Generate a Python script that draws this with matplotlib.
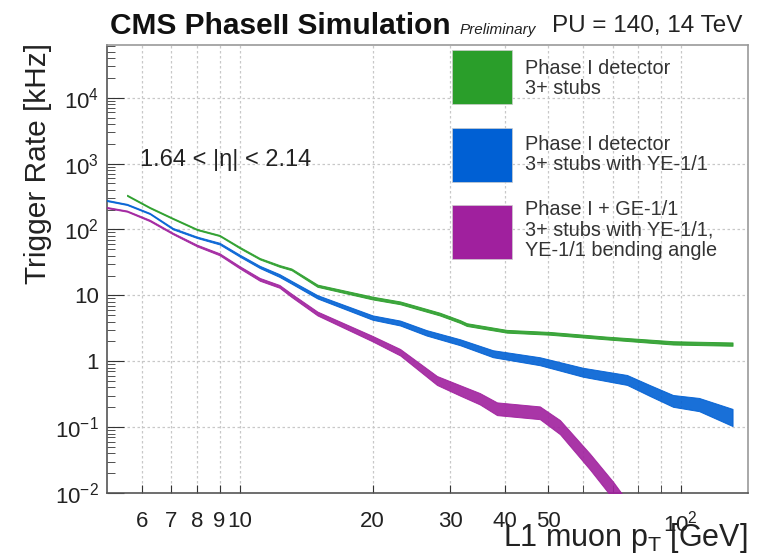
import numpy as np
import matplotlib
matplotlib.use("Agg")
import matplotlib.pyplot as plt
from matplotlib.patches import Rectangle
from matplotlib.ticker import FixedLocator, NullFormatter

plt.rcParams['font.family'] = ['Liberation Sans', 'DejaVu Sans']
plt.rcParams['mathtext.fontset'] = 'custom'
plt.rcParams['mathtext.rm'] = 'Liberation Sans'
plt.rcParams['mathtext.it'] = 'Liberation Sans:italic'

# --- data (pT in GeV, rate in kHz, err = relative band half-width) ---
pt_green = [5.55, 6.25, 7.05, 8.0, 9.0, 10.0, 11.1, 12.3, 13.1, 15.0, 20.0, 23.1, 28.4, 31.6, 32.7, 40.3, 50.5, 68.0, 96.0, 131.0]
rate_green = [330, 215, 147, 100, 81, 53, 36, 28, 24.8, 14.0, 9.1, 7.7, 5.2, 4.0, 3.6, 2.85, 2.65, 2.25, 1.9, 1.82]
err_green = [0.02, 0.02, 0.02, 0.02, 0.02, 0.025, 0.025, 0.03, 0.03, 0.04, 0.05, 0.05, 0.05, 0.05, 0.05, 0.05, 0.05, 0.05, 0.06, 0.06]

pt_blue = [5.0, 5.55, 6.25, 7.05, 8.0, 9.0, 10.0, 11.1, 12.3, 13.1, 15.0, 20.0, 23.1, 26.5, 31.6, 37.5, 47.9, 60.0, 75.5, 85.0, 96.0, 110.0, 131.0]
rate_blue = [275, 240, 175, 103, 76, 61, 40, 27, 20, 15.8, 9.5, 4.6, 3.8, 2.7, 1.94, 1.3, 1.0, 0.68, 0.52, 0.36, 0.25, 0.22, 0.14]
err_blue = [0.02, 0.02, 0.02, 0.025, 0.025, 0.03, 0.035, 0.04, 0.05, 0.05, 0.06, 0.08, 0.09, 0.10, 0.11, 0.13, 0.15, 0.17, 0.19, 0.21, 0.23, 0.26, 0.35]

pt_mag = [5.0, 5.55, 6.25, 7.05, 8.0, 9.0, 10.0, 11.1, 12.3, 13.1, 15.0, 20.0, 23.1, 28.0, 31.6, 35.0, 38.3, 47.9, 53.2, 62.2, 70.2, 75.0]
rate_mag = [215, 190, 137, 87, 57, 42, 26.6, 17.5, 13.7, 10.0, 5.3, 2.2, 1.37, 0.51, 0.36, 0.27, 0.19, 0.165, 0.10, 0.03, 0.011, 0.006]
err_mag = [0.02, 0.02, 0.025, 0.025, 0.03, 0.035, 0.04, 0.05, 0.05, 0.06, 0.07, 0.10, 0.12, 0.17, 0.20, 0.22, 0.25, 0.25, 0.28, 0.32, 0.35, 0.35]

series = [
    ("Phase I detector\n3+ stubs", "#2a9e2a", pt_green, rate_green, err_green),
    ("Phase I detector\n3+ stubs with YE-1/1", "#0060d4", pt_blue, rate_blue, err_blue),
    ("Phase I + GE-1/1\n3+ stubs with YE-1/1,\nYE-1/1 bending angle", "#a0209e", pt_mag, rate_mag, err_mag),
]

x_ticks = [6, 7, 8, 9, 10, 20, 30, 40, 50, 100]
x_ticklabels = ["6", "7", "8", "9", "10", "20", "30", "40", "50", r"$\mathregular{10^{2}}$"]
x_grid = [6, 7, 8, 9, 10, 20, 30, 40, 50, 60, 70, 80, 90, 100]
y_ticks = [1e-2, 1e-1, 1, 10, 1e2, 1e3, 1e4]
y_ticklabels = [r"$\mathregular{10^{-2}}$", r"$\mathregular{10^{-1}}$", "1", "10",
                r"$\mathregular{10^{2}}$", r"$\mathregular{10^{3}}$", r"$\mathregular{10^{4}}$"]

fig = plt.figure(figsize=(7.58, 5.56), dpi=100)
ax = fig.add_axes([107/758, 63/556, 641/758, 448/556])
ax.set_xscale('log')
ax.set_yscale('log')
ax.set_xlim(5, 142)
ax.set_ylim(1e-2, 10**4.80)

for xg in x_grid:
    ax.axvline(xg, color='#c8c8c8', lw=0.9, ls=(0, (2, 2)), zorder=1)
for yg in y_ticks[1:]:
    ax.axhline(yg, color='#c8c8c8', lw=0.9, ls=(0, (2, 2)), zorder=1)

for label, color, pt, rate, err in series:
    pt = np.array(pt)
    rate = np.array(rate)
    err = np.array(err)
    lo = rate / (1 + err)
    hi = rate * (1 + err)
    ax.fill_between(pt, lo, hi, facecolor=color, edgecolor=color, lw=0.7, alpha=0.9, zorder=3)

ax.xaxis.set_major_locator(FixedLocator(x_ticks))
ax.xaxis.set_minor_locator(FixedLocator([60, 70, 80, 90]))
ax.set_xticklabels(x_ticklabels)
ax.xaxis.set_minor_formatter(NullFormatter())
ax.set_yticks(y_ticks)
ax.set_yticklabels(y_ticklabels)

ax.tick_params(axis='both', which='both', direction='in', labelsize=16, colors='#333333', labelcolor='#222222')
ax.tick_params(axis='x', which='major', length=6, pad=13)
ax.tick_params(axis='x', which='minor', length=6)
ax.tick_params(axis='y', which='major', length=12, pad=6)
ax.tick_params(axis='y', which='minor', length=6)
for s in ax.spines.values():
    s.set_color('#9a9a9a')
    s.set_linewidth(1.2)
ax.spines['left'].set_color('#555555')
ax.spines['bottom'].set_color('#555555')

ax.set_ylabel("Trigger Rate [kHz]", fontsize=21.5, color='#222222', loc='top', va='center')
ax.yaxis.set_label_coords(-0.108, 1.005)
ax.set_xlabel(r"L1 muon $\mathregular{p_{T}}$ [GeV]", fontsize=22, color='#222222', loc='right', va='center')
ax.xaxis.set_label_coords(1.0, -0.101)

ax.text(0.051, 0.743, "1.64 < |η| < 2.14", transform=ax.transAxes, fontsize=17,
        color='#222222', va='center', ha='left')

# legend drawn by hand: boxes and labels
box_tops = [0.989, 0.815, 0.643]
text_y = [0.925, 0.756, 0.587]
for (label, color, *_), top, ty in zip(series, box_tops, text_y):
    ax.add_patch(Rectangle((0.538, top - 0.121), 0.094, 0.121, transform=ax.transAxes,
                           facecolor=color, edgecolor='#cccccc', lw=0.5, zorder=4))
    ax.text(0.652, ty, label, transform=ax.transAxes, fontsize=14.3, color='#333333',
            va='center', ha='left', linespacing=1.1, zorder=4)

fig.text(110/758, 1 - 26/556, "CMS PhaseII Simulation", fontsize=21.5, fontweight='bold',
         ha='left', va='center', color='#111111')
fig.text(460/758, 1 - 30/556, "Preliminary", fontsize=11, style='italic',
         ha='left', va='center', color='#222222')
fig.text(742/758, 1 - 26/556, "PU = 140, 14 TeV", fontsize=17.5,
         ha='right', va='center', color='#222222')

fig.savefig("out.png", dpi=100)
